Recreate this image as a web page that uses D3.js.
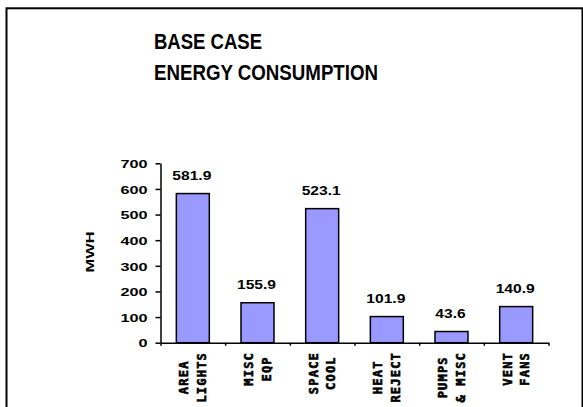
<!DOCTYPE html>
<html>
<head>
<meta charset="utf-8">
<title>Base Case Energy Consumption</title>
<style>
body { margin: 0; background: white; }
svg { display: block; }
.title { font-family: "Liberation Sans Narrow", "Liberation Sans", Arial, sans-serif; font-weight: bold; font-size: 22px; fill: black; }
.tick text, .val, .ylab { font-family: "Liberation Sans", Arial, sans-serif; font-weight: bold; fill: black; }
.cat { font-family: "DejaVu Sans Mono", monospace; font-weight: bold; font-size: 12px; letter-spacing: 1.2px; fill: black; stroke: black; stroke-width: 0.6px; }
.bar { fill: #9999ff; stroke: black; stroke-width: 1.5px; }
.axis path, .axis line { stroke: black; stroke-width: 1.5px; }
</style>
</head>
<body>
<script src="https://d3js.org/d3.v7.min.js"></script>
<svg id="chart" width="583" height="407"></svg>
<script>
const categories = ["AREA|LIGHTS", "MISC|EQP", "SPACE|COOL", "HEAT|REJECT", "PUMPS|& MISC", "VENT|FANS"];
const values = [581.9, 155.9, 523.1, 101.9, 43.6, 140.9];
const yTicks = [0, 100, 200, 300, 400, 500, 600, 700];
const titleLines = ["BASE CASE", "ENERGY CONSUMPTION"];
const yLabel = "MWH";

const svg = d3.select('#chart');

// outer frame (runs off the bottom of the picture)
svg.append('rect')
    .attr('x', 6.5).attr('y', 8.3)
    .attr('width', 576).attr('height', 420)
    .attr('fill', 'none').attr('stroke', 'black').attr('stroke-width', 2);

const titleWidths = [108, 224];
svg.selectAll('.title').data(titleLines).enter()
    .append('text')
    .attr('class', 'title')
    .attr('x', 154)
    .attr('y', (d, i) => 48.5 + i * 31)
    .attr('textLength', (d, i) => titleWidths[i])
    .attr('lengthAdjust', 'spacingAndGlyphs')
    .text(d => d);

const plotLeft = 160.5, plotRight = 548.5, plotBottom = 342.7, plotTop = 163.3;

const x = d3.scaleBand().domain(categories).range([plotLeft, plotRight]).paddingInner(0.49).paddingOuter(0.245);
const xEdges = d3.scaleLinear().domain([0, categories.length]).range([plotLeft, plotRight]);
const y = d3.scaleLinear().domain([0, 700]).range([plotBottom, plotTop]);

// y axis
const yAxis = svg.append('g')
    .attr('class', 'axis')
    .attr('transform', `translate(${plotLeft},0)`)
    .call(d3.axisLeft(y).tickValues(yTicks).tickSize(5).tickSizeOuter(0).tickPadding(0));
yAxis.selectAll('.tick text')
    .attr('font-size', '11.6px')
    .attr('x', 0)
    .attr('transform', 'translate(-13,0) scale(1.4,1)')
    .attr('dy', '0.36em');

// x axis: tick marks at category boundaries
svg.append('g')
    .attr('class', 'axis')
    .attr('transform', `translate(0,${plotBottom})`)
    .call(d3.axisBottom(xEdges).tickValues(d3.range(categories.length + 1)).tickSize(3).tickSizeOuter(0).tickFormat(''));

// bars
svg.selectAll('.bar').data(values).enter()
    .append('rect')
    .attr('class', 'bar')
    .attr('x', (d, i) => x(categories[i]))
    .attr('y', d => y(d))
    .attr('width', x.bandwidth())
    .attr('height', d => plotBottom - y(d));

// value labels
svg.selectAll('.val').data(values).enter()
    .append('text')
    .attr('class', 'val')
    .attr('font-size', '12.5px')
    .attr('text-anchor', 'middle')
    .attr('transform', (d, i) => `translate(${x(categories[i]) + x.bandwidth() / 2 - 1},${y(d) - 13.5}) scale(1.25,1)`)
    .text(d => d.toFixed(1));

// y label
svg.append('text')
    .attr('class', 'ylab')
    .attr('font-size', '10.5px')
    .attr('text-anchor', 'middle')
    .attr('transform', 'translate(93.5,252) rotate(-90)')
    .attr('textLength', 41)
    .attr('lengthAdjust', 'spacingAndGlyphs')
    .text(yLabel);

// category labels, two rotated lines each, block top-aligned below the axis
const catTop = 352;
categories.forEach((c, i) => {
    const lines = c.split('|');
    const cx = x(c) + x.bandwidth() / 2;
    const g = svg.append('g');
    const texts = lines.map((l, j) => g.append('text')
        .attr('class', 'cat')
        .attr('text-anchor', 'middle')
        .text(l));
    const maxLen = d3.max(texts, t => t.node().getComputedTextLength());
    texts.forEach((t, j) => {
        t.attr('transform', `translate(${cx + (j === 0 ? -4.5 : 13)},${catTop + maxLen / 2}) rotate(-90)`);
    });
});
</script>
</body>
</html>
